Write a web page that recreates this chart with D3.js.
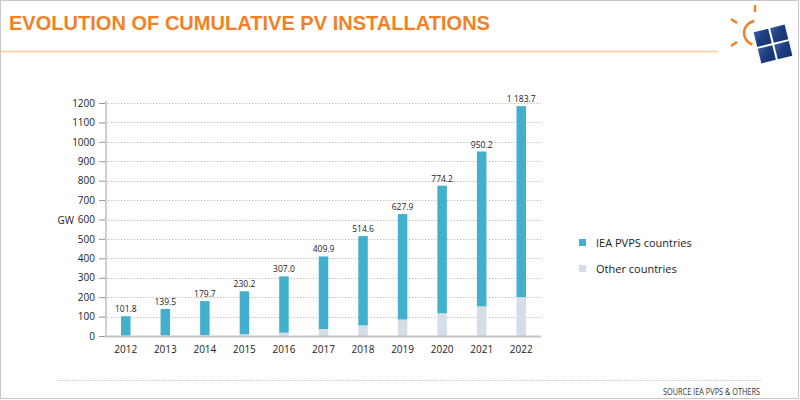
<!DOCTYPE html>
<html><head><meta charset="utf-8">
<script src="https://cdn.jsdelivr.net/npm/d3@7"></script>
<style>
html,body{margin:0;padding:0;background:#fff;}
svg{display:block;}
</style></head>
<body>
<svg id="chart" width="800" height="400"></svg>
<script>
const years = ["2012","2013","2014","2015","2016","2017","2018","2019","2020","2021","2022"];
const totals = [101.8,139.5,179.7,230.2,307.0,409.9,514.6,627.9,774.2,950.2,1183.7];
const totalLabels = ["101.8","139.5","179.7","230.2","307.0","409.9","514.6","627.9","774.2","950.2","1 183.7"];
const otherCountries = [2,3,5,9,17,36,55,85,117,153,200];
const iea = totals.map((t,i)=>+(t-otherCountries[i]).toFixed(1));
const yTicks = [0,100,200,300,400,500,600,700,800,900,1000,1100,1200];
const seriesNames = ["IEA PVPS countries","Other countries"];
const colors = ["#41b0cc","#d4dde8"];

const svg = d3.select("#chart");
const font = "'Open Sans', 'Noto Sans', sans-serif";

// frame
svg.append("rect").attr("x",0.5).attr("y",0.5).attr("width",798).attr("height",398)
  .attr("fill","#fff").attr("stroke","#c8c8c8");

// title
svg.append("text").attr("x",9).attr("y",30).text("EVOLUTION OF CUMULATIVE PV INSTALLATIONS")
  .attr("font-family","'Liberation Sans', Arial, sans-serif").attr("font-weight","bold")
  .attr("font-size",21).attr("fill","#f28126")
  .attr("textLength",481).attr("lengthAdjust","spacingAndGlyphs");
svg.append("line").attr("x1",1).attr("x2",718).attr("y1",51.5).attr("y2",51.5)
  .attr("stroke","#fdd3ae").attr("stroke-width",2);

// logo
const logo = svg.append("g");
logo.append("path").attr("d", d3.arc()({innerRadius:12,outerRadius:12,startAngle:-0.15,endAngle:-Math.PI+0.3}))
  .attr("transform","translate(756,33)").attr("fill","none").attr("stroke","#f28126").attr("stroke-width",2.6);
logo.append("line").attr("x1",755).attr("x2",755).attr("y1",5).attr("y2",12).attr("stroke","#f28126").attr("stroke-width",2.4);
logo.append("line").attr("x1",731).attr("x2",737).attr("y1",19).attr("y2",23).attr("stroke","#f28126").attr("stroke-width",2.4);
logo.append("line").attr("x1",731).attr("x2",737).attr("y1",46).attr("y2",42).attr("stroke","#f28126").attr("stroke-width",2.4);
const panel = logo.append("g").attr("transform","translate(773,44) rotate(-14)");
const defs = svg.append("defs");
const grad = defs.append("linearGradient").attr("id","pg").attr("x1","0").attr("y1","0").attr("x2","1").attr("y2","1");
grad.append("stop").attr("offset","0").attr("stop-color","#3b5e9e");
grad.append("stop").attr("offset","0.45").attr("stop-color","#1d3f80");
grad.append("stop").attr("offset","1").attr("stop-color","#143370");
[[-16,-16],[1,-16],[-16,1],[1,1]].forEach(p=>{
  panel.append("rect").attr("x",p[0]).attr("y",p[1]).attr("width",15).attr("height",15).attr("fill","url(#pg)");
});

// scales
const x = d3.scaleBand().domain(years).range([106,541]).paddingInner(0.76).paddingOuter(0.38);
const y = d3.scaleLinear().domain([0,1200]).range([336,103]);

// gridlines
svg.append("g").selectAll("line").data(yTicks.filter(d=>d>0)).join("line")
  .attr("x1",108).attr("x2",541).attr("y1",d=>Math.round(y(d))+0.5).attr("y2",d=>Math.round(y(d))+0.5)
  .attr("stroke","#b5b5b5").attr("stroke-width",1).attr("stroke-dasharray","1.2,2");

// y axis
const yAxis = d3.axisLeft(y).tickValues(yTicks).tickFormat(d3.format("d")).tickSize(7).tickPadding(4);
const ya = svg.append("g").attr("transform","translate(106,0)").call(yAxis);
ya.select(".domain").remove();
ya.selectAll(".tick line").attr("stroke","#9a9a9a");
ya.selectAll(".tick text").attr("font-family",font).attr("font-size",10).attr("fill","#222");
svg.append("line").attr("x1",106).attr("x2",106).attr("y1",101).attr("y2",337)
  .attr("stroke","#c4c4c4").attr("stroke-width",1.6);

svg.append("text").attr("x",74).attr("y",223.5).attr("text-anchor","end").text("GW")
  .attr("font-family",font).attr("font-size",10).attr("fill","#222");

// stacks
const rows = years.map((yr,i)=>({year:yr, other:otherCountries[i], iea:iea[i]}));
const stack = d3.stack().keys(["other","iea"])(rows);
const stackColors = {other:colors[1], iea:colors[0]};
svg.append("g").selectAll("g").data(stack).join("g").attr("fill",d=>stackColors[d.key])
  .selectAll("rect").data(d=>d).join("rect")
  .attr("x",d=>x(d.data.year)).attr("width",x.bandwidth())
  .attr("y",d=>y(d[1])).attr("height",d=>y(d[0])-y(d[1]));

// x baseline
svg.append("line").attr("x1",105).attr("x2",541).attr("y1",336.5).attr("y2",336.5)
  .attr("stroke","#c4c4c4").attr("stroke-width",1.8);

// x axis labels
const xAxis = d3.axisBottom(x).tickSize(0).tickPadding(9);
const xa = svg.append("g").attr("transform","translate(0,337)").call(xAxis);
xa.select(".domain").remove();
xa.selectAll(".tick text").attr("font-family",font).attr("font-size",10).attr("fill","#222");

// value labels
svg.append("g").selectAll("text").data(years).join("text")
  .attr("x",(d)=>x(d)+x.bandwidth()/2).attr("y",(d,i)=>y(totals[i])-4)
  .attr("text-anchor","middle").text((d,i)=>totalLabels[i])
  .attr("font-family",font).attr("font-size",8.5).attr("fill","#222");

// legend
const leg = svg.append("g");
seriesNames.forEach((n,i)=>{
  leg.append("rect").attr("x",579).attr("y",239+i*26).attr("width",7).attr("height",7).attr("fill",colors[i]);
  leg.append("text").attr("x",596).attr("y",246.5+i*26).text(n)
    .attr("font-family",font).attr("font-size",11).attr("fill","#222");
});

// footer
svg.append("line").attr("x1",58).attr("x2",762).attr("y1",380.5).attr("y2",380.5)
  .attr("stroke","#bbb").attr("stroke-dasharray","1,1.3");
svg.append("text").attr("x",760).attr("y",395).attr("text-anchor","end").text("SOURCE IEA PVPS & OTHERS")
  .attr("font-family",font).attr("font-size",9).attr("fill","#333")
  .attr("textLength",97).attr("lengthAdjust","spacingAndGlyphs");
</script>
</body></html>
